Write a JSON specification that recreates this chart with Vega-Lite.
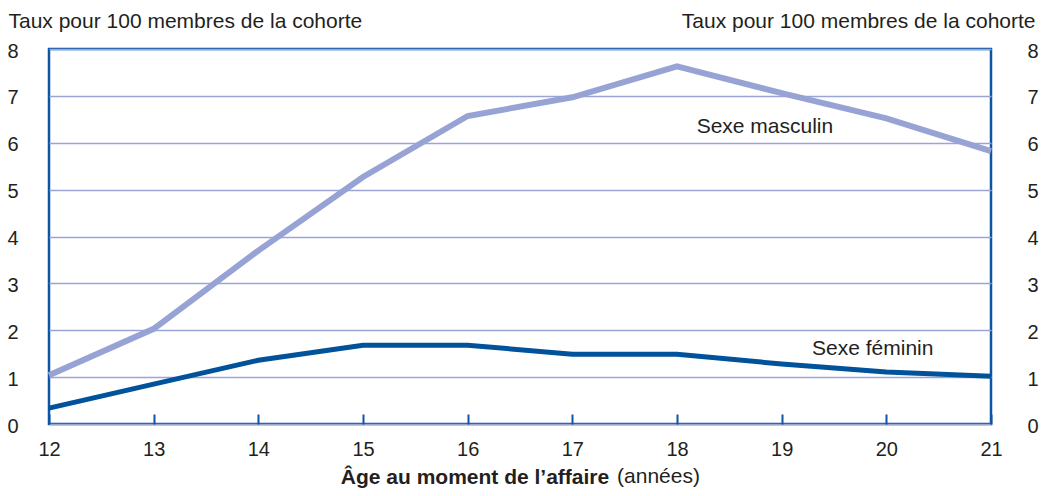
{
  "$schema": "https://vega.github.io/schema/vega-lite/v6.json",
  "width": 942,
  "height": 375,
  "autosize": {"type": "none"},
  "padding": {"left": 49, "top": 49, "right": 51, "bottom": 72},
  "background": "white",
  "config": {
    "font": "Liberation Sans",
    "view": {"stroke": "#0b55a3", "strokeWidth": 2.5},
    "axis": {
      "labelFont": "Liberation Sans",
      "labelFontSize": 20,
      "labelColor": "#231f20",
      "titleFont": "Liberation Sans",
      "titleFontSize": 21,
      "titleColor": "#231f20",
      "titleFontWeight": "normal"
    }
  },
  "datasets": {
    "series": [
      {"age": 12, "sexe": "Sexe masculin", "taux": 1.04},
      {"age": 13, "sexe": "Sexe masculin", "taux": 2.03},
      {"age": 14, "sexe": "Sexe masculin", "taux": 3.7},
      {"age": 15, "sexe": "Sexe masculin", "taux": 5.27},
      {"age": 16, "sexe": "Sexe masculin", "taux": 6.57},
      {"age": 17, "sexe": "Sexe masculin", "taux": 6.97},
      {"age": 18, "sexe": "Sexe masculin", "taux": 7.63},
      {"age": 19, "sexe": "Sexe masculin", "taux": 7.06},
      {"age": 20, "sexe": "Sexe masculin", "taux": 6.52},
      {"age": 21, "sexe": "Sexe masculin", "taux": 5.82},
      {"age": 12, "sexe": "Sexe féminin", "taux": 0.34},
      {"age": 13, "sexe": "Sexe féminin", "taux": 0.85},
      {"age": 14, "sexe": "Sexe féminin", "taux": 1.36},
      {"age": 15, "sexe": "Sexe féminin", "taux": 1.68},
      {"age": 16, "sexe": "Sexe féminin", "taux": 1.68},
      {"age": 17, "sexe": "Sexe féminin", "taux": 1.49},
      {"age": 18, "sexe": "Sexe féminin", "taux": 1.49},
      {"age": 19, "sexe": "Sexe féminin", "taux": 1.28},
      {"age": 20, "sexe": "Sexe féminin", "taux": 1.11},
      {"age": 21, "sexe": "Sexe féminin", "taux": 1.02}
    ],
    "notes": [
      {"age": 18.84, "taux": 6.33, "label": "Sexe masculin"},
      {"age": 19.87, "taux": 1.6, "label": "Sexe féminin"}
    ],
    "unit": [
      {"age": 17.427, "taux": -1.259, "label": "(années)"}
    ]
  },
  "encoding": {
    "x": {
      "field": "age",
      "type": "quantitative",
      "scale": {"domain": [12, 21], "nice": false, "zero": false},
      "axis": {
        "values": [12, 13, 14, 15, 16, 17, 18, 19, 20, 21],
        "domain": false,
        "grid": false,
        "ticks": true,
        "tickSize": -10,
        "tickWidth": 2,
        "tickColor": "#0b55a3",
        "labelPadding": 25,
        "labelBaseline": "top",
        "labelFlush": false,
        "title": "Âge au moment de l’affaire",
        "titleFontWeight": "bold",
        "titleX": 425.5,
        "titleY": 59,
        "titleAlign": "center",
        "titleBaseline": "alphabetic",
        "titleAnchor": null
      }
    }
  },
  "layer": [
    {
      "encoding": {
        "y": {
          "field": "taux",
          "type": "quantitative",
          "scale": {"domain": [0, 8], "nice": false},
          "axis": {
            "orient": "left",
            "values": [0, 1, 2, 3, 4, 5, 6, 7, 8],
            "domain": false,
            "ticks": false,
            "tickSize": 0,
            "grid": true,
            "gridColor": "#9aa5d5",
            "gridWidth": 1.6,
            "labelPadding": 31,
            "labelAlign": "right",
            "labelBaseline": "middle",
            "labelOffset": 2,
            "title": "Taux pour 100 membres de la cohorte",
            "titleAngle": 0,
            "titleX": -41,
            "titleY": -22,
            "titleAlign": "left",
            "titleBaseline": "alphabetic"
          }
        }
      },
      "layer": [
        {
          "data": {"name": "series"},
          "transform": [{"filter": "datum.sexe === 'Sexe masculin'"}],
          "mark": {"type": "line", "color": "#97a3d4", "strokeWidth": 6, "strokeCap": "butt"}
        },
        {
          "data": {"name": "notes"},
          "mark": {"type": "text", "fontSize": 21, "color": "#231f20", "align": "center", "baseline": "middle"},
          "encoding": {"text": {"field": "label"}}
        },
        {
          "data": {"name": "unit"},
          "mark": {"type": "text", "fontSize": 21, "color": "#231f20", "align": "left", "baseline": "alphabetic"},
          "encoding": {"text": {"field": "label"}}
        }
      ]
    },
    {
      "data": {"name": "series"},
      "transform": [{"filter": "datum.sexe === 'Sexe féminin'"}],
      "mark": {"type": "line", "color": "#00529b", "strokeWidth": 5, "strokeCap": "butt"},
      "encoding": {
        "y": {
          "field": "taux",
          "type": "quantitative",
          "scale": {"domain": [0, 8], "nice": false},
          "axis": {
            "orient": "right",
            "values": [0, 1, 2, 3, 4, 5, 6, 7, 8],
            "domain": false,
            "ticks": false,
            "tickSize": 0,
            "grid": false,
            "labelPadding": 36,
            "labelAlign": "left",
            "labelBaseline": "middle",
            "labelOffset": 2,
            "title": "Taux pour 100 membres de la cohorte",
            "titleAngle": 0,
            "titleX": 44,
            "titleY": -22,
            "titleAlign": "right",
            "titleBaseline": "alphabetic"
          }
        }
      }
    }
  ],
  "resolve": {"scale": {"y": "independent"}}
}
